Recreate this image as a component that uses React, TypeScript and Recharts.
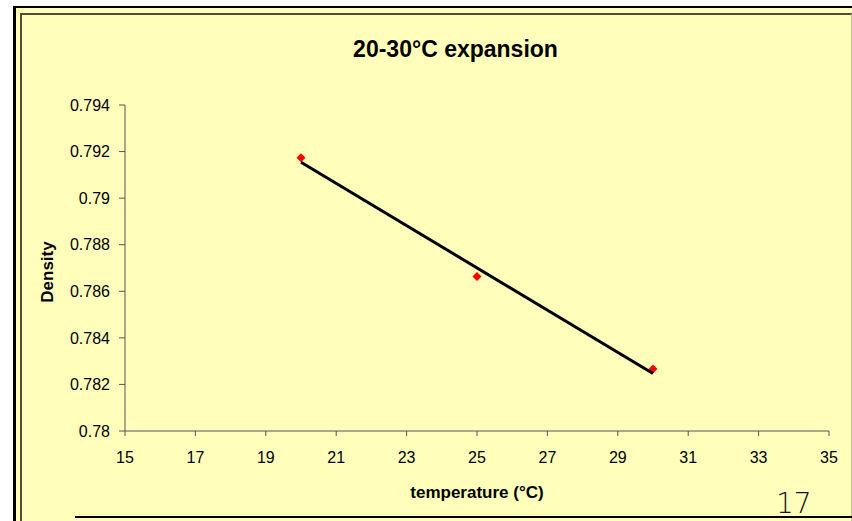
import { ScatterChart, Scatter, XAxis, YAxis } from "recharts";

// measured points
const temperature = [20, 25, 30];
const density = [0.79173, 0.78663, 0.78266];

// linear trendline end points (as drawn on the chart)
const trendTemperature = [20, 30];
const trendDensity = [0.79154, 0.78247];

const xTicks = [15, 17, 19, 21, 23, 25, 27, 29, 31, 33, 35];
const yTicks = [0.78, 0.782, 0.784, 0.786, 0.788, 0.79, 0.792, 0.794];

const YELLOW = "#FFFFBB";
const AXIS = "#555550";

const points = temperature.map((t, i) => ({ x: t, y: density[i] }));
const trend = trendTemperature.map((t, i) => ({ x: t, y: trendDensity[i] }));

const Diamond = (props: any) => {
  const { cx, cy } = props;
  if (cx == null || cy == null) return <g />;
  const r = 4.5;
  return (
    <path
      d={`M${cx},${cy - r} L${cx + r},${cy} L${cx},${cy + r} L${cx - r},${cy} Z`}
      fill="#FF0000"
    />
  );
};

export default function App() {
  return (
    <div
      style={{
        position: "absolute",
        left: 0,
        top: 0,
        width: 852,
        height: 521,
        background: "#fff",
        overflow: "hidden",
        fontFamily: '"Liberation Sans", Arial, sans-serif',
      }}
    >
      {/* slide frame */}
      <div
        style={{
          position: "absolute",
          left: 13,
          top: 6,
          width: 860,
          height: 540,
          borderLeft: "3px solid #000",
          borderTop: "2px solid #000",
          background: YELLOW,
          boxSizing: "border-box",
        }}
      />
      <div
        style={{
          position: "absolute",
          left: 20,
          top: 13,
          width: 832,
          height: 540,
          borderLeft: "2px solid #4f4f3c",
          borderTop: "2px solid #4f4f3c",
          borderRight: "1px solid #c0c0a0",
          boxSizing: "border-box",
        }}
      />
      <div
        style={{
          position: "absolute",
          left: 75,
          top: 516,
          width: 800,
          height: 2,
          background: "#000",
        }}
      />

      <ScatterChart
        width={852}
        height={521}
        margin={{ top: 105, right: 23, bottom: 0, left: 0 }}
        style={{ position: "absolute", left: 0, top: 0 }}
      >
        <XAxis
          type="number"
          dataKey="x"
          domain={[15, 35]}
          ticks={xTicks}
          interval={0}
          height={90}
          tickSize={5}
          tickMargin={16}
          axisLine={{ stroke: AXIS }}
          tickLine={{ stroke: AXIS }}
          tick={{ fill: "#000", fontSize: 16 }}
          allowDataOverflow
        />
        <YAxis
          type="number"
          dataKey="y"
          domain={[0.78, 0.794]}
          ticks={yTicks}
          interval={0}
          width={125}
          tickSize={6}
          tickMargin={9}
          axisLine={{ stroke: AXIS }}
          tickLine={{ stroke: AXIS }}
          tick={{ fill: "#000", fontSize: 16 }}
          allowDataOverflow
        />
        <Scatter data={points} shape={Diamond} isAnimationActive={false} />
        <Scatter
          data={trend}
          line={{ stroke: "#000", strokeWidth: 3 }}
          shape={() => <g />}
          isAnimationActive={false}
        />
      </ScatterChart>

      {/* titles */}
      <svg
        width={852}
        height={521}
        style={{ position: "absolute", left: 0, top: 0, pointerEvents: "none" }}
      >
        <text x={455.5} y={57} textAnchor="middle" fontSize={23} fontWeight="bold" fill="#000">
          20-30°C expansion
        </text>
        <text x={477} y={498} textAnchor="middle" fontSize={17} fontWeight="bold" fill="#000">
          temperature (°C)
        </text>
        <text
          x={53}
          y={272}
          transform="rotate(-90 53 272)"
          textAnchor="middle"
          fontSize={17}
          fontWeight="bold"
          fill="#000"
        >
          Density
        </text>
        <text
          x={776}
          y={513}
          fontSize={28}
          fontWeight={200}
          fontFamily='"DejaVu Sans", sans-serif'
          fill="#111"
        >
          17
        </text>
      </svg>
    </div>
  );
}
